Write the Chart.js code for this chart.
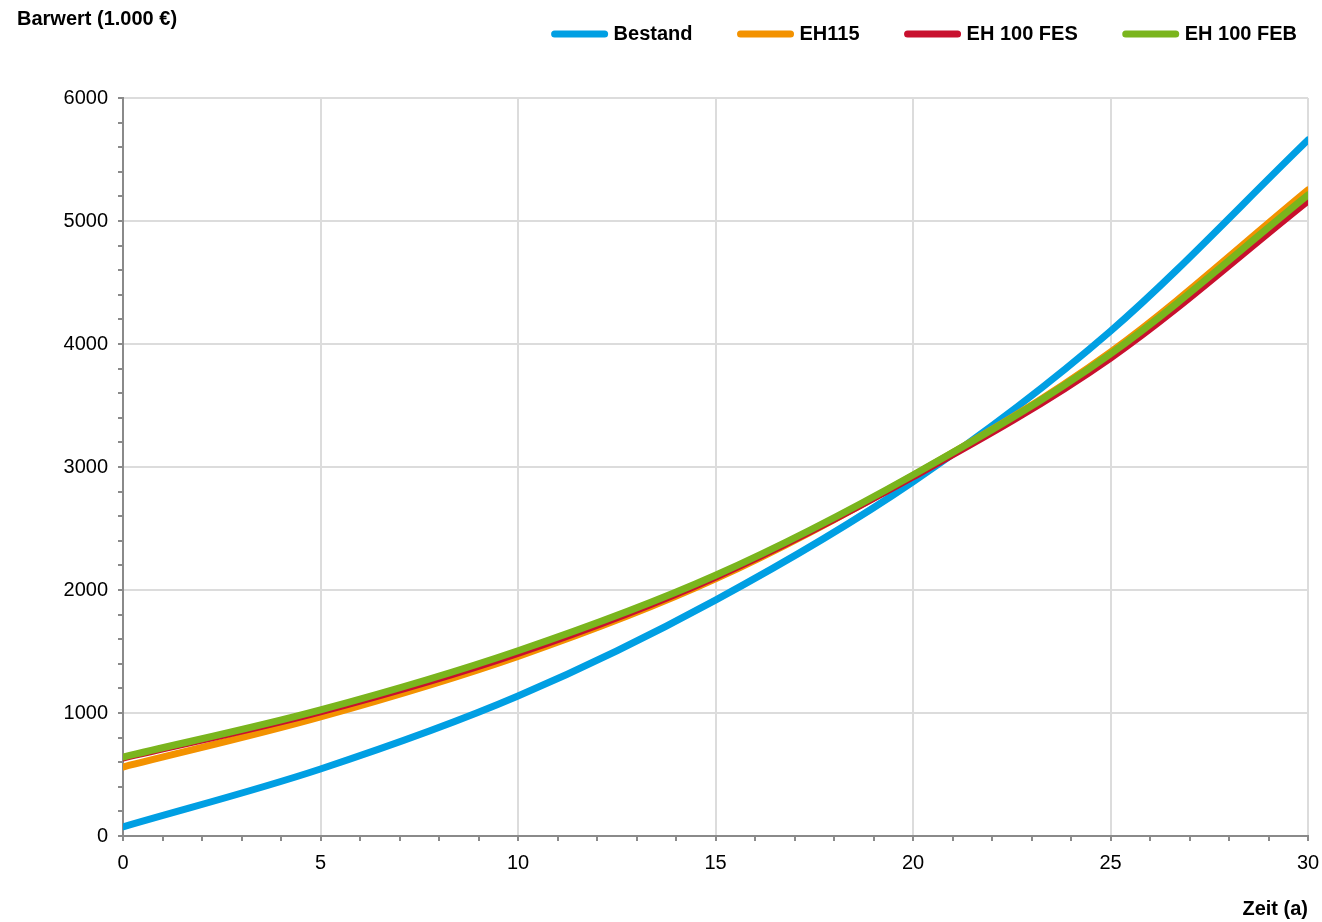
<!DOCTYPE html>
<html>
<head>
<meta charset="utf-8">
<script src="https://cdn.jsdelivr.net/npm/chart.js@4/dist/chart.umd.min.js"></script>
<style>
  html, body { margin: 0; padding: 0; background: #fff; }
  #wrap { width: 1322px; height: 922px; }
</style>
</head>
<body>
<div id="wrap"><canvas id="chart"></canvas></div>
<script>
// values (Barwert in 1.000 €)
var years = [0, 5, 10, 15, 20, 25, 30];
var bestand = [75, 545, 1138, 1918, 2880, 4105, 5659];
var eh115 = [561, 968, 1460, 2090, 2930, 3935, 5252];
var eh100Fes = [630, 1005, 1480, 2100, 2915, 3880, 5157];
var eh100Feb = [642, 1025, 1506, 2120, 2935, 3920, 5211];

var seriesNames = ['Bestand', 'EH115', 'EH 100 FES', 'EH 100 FEB'];
var seriesColors = ['#009fe3', '#f39200', '#c8102e', '#7ab51d'];
var yTitle = 'Barwert (1.000 €)';
var xTitle = 'Zeit (a)';

function toPoints(values) {
    return values.map(function(v, i) {
        return { x: years[i], y: v };
    });
}

var allValues = [bestand, eh115, eh100Fes, eh100Feb];
var lineWidths = [7, 7, 6, 7];

var datasets = allValues.map(function(vals, i) {
    return {
        label: seriesNames[i],
        data: toPoints(vals),
        borderColor: seriesColors[i],
        backgroundColor: seriesColors[i],
        borderWidth: lineWidths[i],
        pointRadius: 0,
        cubicInterpolationMode: 'monotone',
        borderCapStyle: 'round',
        fill: false,
        // later series are painted on top, like the original
        order: allValues.length - 1 - i
    };
});

var fontFamily = '"Liberation Sans", Arial, sans-serif';

// header: axis title top left and legend top right
var headerPlugin = {
    id: 'header',
    afterDraw: function(chart) {
        var ctx = chart.ctx;
        ctx.save();
        ctx.fillStyle = '#000';
        ctx.font = 'bold 20px ' + fontFamily;
        ctx.textBaseline = 'middle';
        ctx.textAlign = 'left';
        ctx.fillText(yTitle, 17, 19);

        var right = 1297;
        var lineLen = 56;
        var gap = 6;
        var itemGap = 45;
        var y = 34;
        var x = right;
        for (var i = seriesNames.length - 1; i >= 0; i--) {
            var w = ctx.measureText(seriesNames[i]).width;
            var textX = x - w;
            ctx.fillText(seriesNames[i], textX, y);
            var lineEnd = textX - gap;
            ctx.beginPath();
            ctx.lineCap = 'round';
            ctx.lineWidth = 7;
            ctx.strokeStyle = seriesColors[i];
            ctx.moveTo(lineEnd - lineLen + 3, y);
            ctx.lineTo(lineEnd - 3, y);
            ctx.stroke();
            x = lineEnd - lineLen - itemGap;
        }
        ctx.restore();
    }
};

var ctx = document.getElementById('chart').getContext('2d');
var myChart = new Chart(ctx, {
    type: 'line',
    data: { datasets: datasets },
    options: {
        responsive: true,
        maintainAspectRatio: false,
        animation: false,
        layout: { padding: { top: 98, right: 14, left: 0, bottom: 0 } },
        plugins: {
            legend: { display: false },
            tooltip: { enabled: false }
        },
        scales: {
            x: {
                type: 'linear',
                min: 0,
                max: 30,
                afterFit: function(scale) {
                    scale.height = 86;
                    scale.paddingRight = 0;
                },
                ticks: {
                    stepSize: 1,
                    autoSkip: false,
                    maxRotation: 0,
                    padding: 10,
                    color: '#000',
                    font: { family: fontFamily, size: 20 },
                    callback: function(v) { return v % 5 === 0 ? String(v) : ''; }
                },
                grid: {
                    lineWidth: 2,
                    color: function(c) {
                        return c.tick && c.tick.value % 5 === 0 ? '#dcdcdc' : 'rgba(0,0,0,0)';
                    },
                    tickColor: '#8a8a8a',
                    tickWidth: 2,
                    tickLength: 5
                },
                border: { color: '#8a8a8a', width: 2 },
                title: {
                    display: true,
                    text: xTitle,
                    align: 'end',
                    color: '#000',
                    font: { family: fontFamily, size: 20, weight: 'bold' },
                    padding: { top: 0, bottom: 1 }
                }
            },
            y: {
                min: 0,
                max: 6000,
                afterFit: function(scale) { scale.width = 123; },
                ticks: {
                    stepSize: 200,
                    autoSkip: false,
                    padding: 10,
                    color: '#000',
                    font: { family: fontFamily, size: 20 },
                    callback: function(v) { return v % 1000 === 0 ? String(v) : ''; }
                },
                grid: {
                    lineWidth: 2,
                    color: function(c) {
                        return c.tick && c.tick.value % 1000 === 0 ? '#dcdcdc' : 'rgba(0,0,0,0)';
                    },
                    tickColor: '#8a8a8a',
                    tickWidth: 2,
                    tickLength: 5
                },
                border: { color: '#8a8a8a', width: 2 }
            }
        }
    },
    plugins: [headerPlugin]
});
</script>
</body>
</html>
